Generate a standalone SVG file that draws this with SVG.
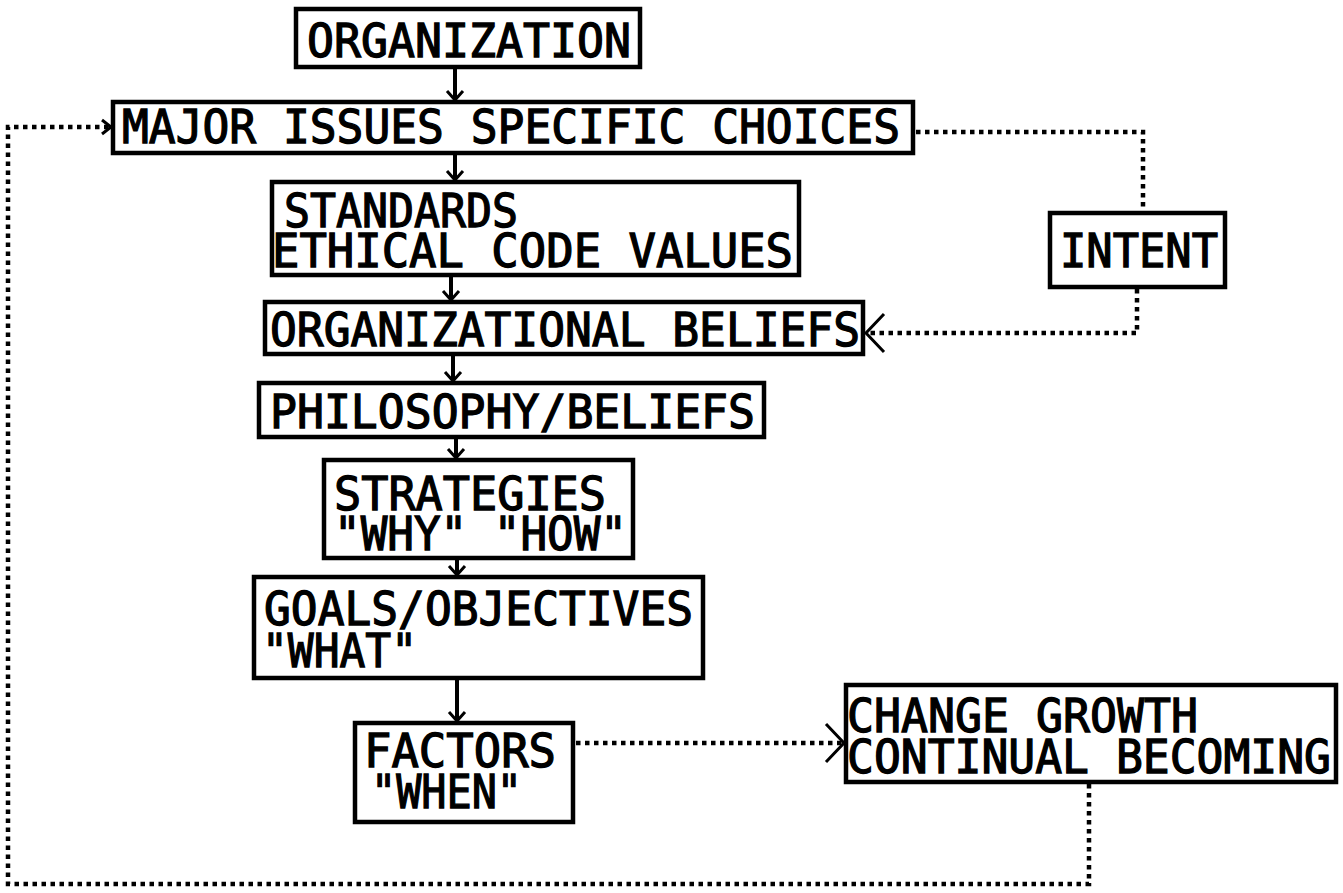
<svg xmlns="http://www.w3.org/2000/svg" width="1343" height="893" viewBox="0 0 1343 893">
<style>
  .box { fill: #fff; stroke: #000; stroke-width: 4.5; }
  .t { font-family: "DejaVu Sans Mono", "Liberation Mono", monospace; font-weight: normal; font-size: 46px; fill: #000; stroke: #000; stroke-width: 1.3; }
  .solid { fill: none; stroke: #000; stroke-width: 4; }
  .dot { fill: none; stroke: #000; stroke-width: 4.5; stroke-dasharray: 4.5 4.5; }
  .head { fill: none; stroke: #000; stroke-width: 3; stroke-dasharray: none; }
</style>
<defs>
  <marker id="arr" markerUnits="userSpaceOnUse" markerWidth="30" markerHeight="30" refX="0" refY="0" viewBox="-15 -15 30 30" orient="auto" overflow="visible">
    <path class="head" d="M -9 -8 L 0 0 L -9 8"/>
  </marker>
  <marker id="big" markerUnits="userSpaceOnUse" markerWidth="50" markerHeight="50" refX="0" refY="0" viewBox="-25 -25 50 50" orient="auto" overflow="visible">
    <path class="head" d="M -18 -19 L 0 0 L -18 19"/>
  </marker>
  <marker id="small" markerUnits="userSpaceOnUse" markerWidth="30" markerHeight="30" refX="0" refY="0" viewBox="-15 -15 30 30" orient="auto" overflow="visible">
    <path class="head" d="M -9 -7 L 0 0 L -9 7"/>
  </marker>
</defs>
<rect width="1343" height="893" fill="#fff"/>

<g id="connectors">
  <line class="solid" x1="455" y1="67" x2="455" y2="100" marker-end="url(#arr)"/>
  <line class="solid" x1="455" y1="153" x2="455" y2="180" marker-end="url(#arr)"/>
  <line class="solid" x1="451" y1="275" x2="451" y2="300" marker-end="url(#arr)"/>
  <line class="solid" x1="453" y1="354" x2="453" y2="381" marker-end="url(#arr)"/>
  <line class="solid" x1="456" y1="437" x2="456" y2="458" marker-end="url(#arr)"/>
  <line class="solid" x1="457" y1="558" x2="457" y2="575" marker-end="url(#arr)"/>
  <line class="solid" x1="457" y1="678" x2="457" y2="721" marker-end="url(#arr)"/>
  <path class="dot" d="M 916 132 H 1143 V 211"/>
  <path class="dot" d="M 1137 289 V 333 H 866" marker-end="url(#big)"/>
  <path class="dot" d="M 576 743 H 844" marker-end="url(#big)"/>
  <path class="dot" d="M 1089 784 V 884 H 8 V 127 H 111" marker-end="url(#small)"/>
</g>

<g id="n-organization">
  <rect class="box" x="296" y="9" width="344" height="58"/>
  <text class="t" x="307" y="57" textLength="324" lengthAdjust="spacingAndGlyphs">ORGANIZATION</text>
</g>
<g id="n-major">
  <rect class="box" x="113" y="102" width="800" height="51"/>
  <text class="t" x="122" y="143" textLength="778" lengthAdjust="spacingAndGlyphs">MAJOR ISSUES SPECIFIC CHOICES</text>
</g>
<g id="n-standards">
  <rect class="box" x="272" y="182" width="527" height="93"/>
  <text class="t"><tspan x="284" y="227" textLength="234" lengthAdjust="spacingAndGlyphs">STANDARDS</tspan><tspan x="272" y="267" textLength="521" lengthAdjust="spacingAndGlyphs">ETHICAL CODE VALUES</tspan></text>
</g>
<g id="n-intent">
  <rect class="box" x="1050" y="213" width="175" height="74"/>
  <text class="t" x="1060" y="267" textLength="158" lengthAdjust="spacingAndGlyphs">INTENT</text>
</g>
<g id="n-orgbeliefs">
  <rect class="box" x="265" y="302" width="598" height="52"/>
  <text class="t" x="270" y="346" textLength="590" lengthAdjust="spacingAndGlyphs">ORGANIZATIONAL BELIEFS</text>
</g>
<g id="n-philosophy">
  <rect class="box" x="259" y="383" width="505" height="54"/>
  <text class="t" x="270" y="428" textLength="485" lengthAdjust="spacingAndGlyphs">PHILOSOPHY/BELIEFS</text>
</g>
<g id="n-strategies">
  <rect class="box" x="324" y="460" width="309" height="98"/>
  <text class="t"><tspan x="334" y="510" textLength="272" lengthAdjust="spacingAndGlyphs">STRATEGIES</tspan><tspan x="334" y="550" textLength="293" lengthAdjust="spacingAndGlyphs">"WHY" "HOW"</tspan></text>
</g>
<g id="n-goals">
  <rect class="box" x="254" y="577" width="449" height="101"/>
  <text class="t"><tspan x="264" y="625" textLength="429" lengthAdjust="spacingAndGlyphs">GOALS/OBJECTIVES</tspan><tspan x="262" y="667" textLength="155" lengthAdjust="spacingAndGlyphs">"WHAT"</tspan></text>
</g>
<g id="n-factors">
  <rect class="box" x="355" y="723" width="218" height="99"/>
  <text class="t"><tspan x="364" y="767" textLength="192" lengthAdjust="spacingAndGlyphs">FACTORS</tspan><tspan x="371" y="808" textLength="151" lengthAdjust="spacingAndGlyphs">"WHEN"</tspan></text>
</g>
<g id="n-change">
  <rect class="box" x="846" y="685" width="490" height="97"/>
  <text class="t"><tspan x="847" y="732" textLength="351" lengthAdjust="spacingAndGlyphs">CHANGE GROWTH</tspan><tspan x="847" y="773" textLength="484" lengthAdjust="spacingAndGlyphs">CONTINUAL BECOMING</tspan></text>
</g>
</svg>
